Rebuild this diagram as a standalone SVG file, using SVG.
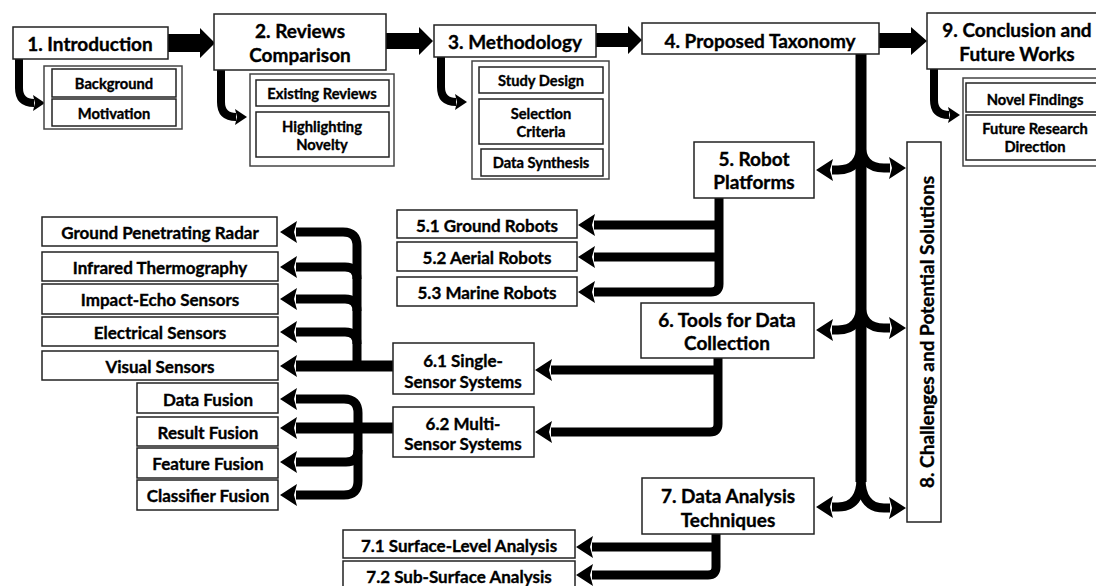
<svg xmlns="http://www.w3.org/2000/svg" width="1096" height="586" viewBox="0 0 1096 586">
<style>
.b{fill:#fff;stroke:#222;stroke-width:1.5}
.c{fill:#fff;stroke:#444;stroke-width:1.5}
text{font-family:Lato,"Open Sans",sans-serif;font-weight:700;fill:#000;stroke:#000;stroke-width:0.35;text-anchor:middle;dominant-baseline:central}
.h{font-size:19px}
.m{font-size:17px}
.s{font-size:14.7px}
.k{fill:none;stroke:#000;stroke-width:9}
.kt{fill:none;stroke:#000;stroke-width:11}
.ks{fill:none;stroke:#000;stroke-width:8}
.blk{fill:#000}
</style>
<defs>
<marker id="ah" markerUnits="userSpaceOnUse" markerWidth="20" markerHeight="26" refX="1" refY="13" orient="auto" viewBox="0 0 20 26">
<path d="M0,2 L17,13 L0,24 L3,13 z" fill="#000"/>
</marker>
<marker id="ahs" markerUnits="userSpaceOnUse" markerWidth="14" markerHeight="20" refX="1" refY="10" orient="auto" viewBox="0 0 14 20">
<path d="M0,2 L12,10 L0,18 L2,10 z" fill="#000"/>
</marker>
</defs>

<g id="connectors">
<path class="blk" d="M168,34 H200 V28 L215,43 L200,58 V52 H168 z"/>
<path class="blk" d="M386,33 H419 V27 L433,41 L419,55 V49 H386 z"/>
<path class="blk" d="M596,33 H628 V26 L642,40 L628,54 V47 H596 z"/>
<path class="blk" d="M879,33 H911 V27 L927,41 L911,55 V48 H879 z"/>
<path class="ks" d="M19,59 V88 Q19,103 34,103" marker-end="url(#ahs)"/>
<path class="ks" d="M221,70 V102 Q221,117 236,117" marker-end="url(#ahs)"/>
<path class="ks" d="M441,57 V87 Q441,102 456,102" marker-end="url(#ahs)"/>
<path class="ks" d="M934,69 V100 Q934,115 949,115" marker-end="url(#ahs)"/>
<path class="kt" d="M861,54 V482"/>
<path class="k" d="M861,143 Q861,170 838,170 H832" marker-end="url(#ah)"/>
<path class="k" d="M861,143 Q861,168 884,168 H890" marker-end="url(#ah)"/>
<path class="k" d="M861,303 Q861,330 838,330 H832" marker-end="url(#ah)"/>
<path class="k" d="M861,303 Q861,328 884,328 H890" marker-end="url(#ah)"/>
<path class="k" d="M861,478 Q861,507 838,507 H832" marker-end="url(#ah)"/>
<path class="k" d="M861,478 Q861,508 884,508 H890" marker-end="url(#ah)"/>
<path class="k" d="M719,198 V284 Q719,292 711,292 H594" marker-end="url(#ah)"/>
<path class="k" d="M719,225 H594" marker-end="url(#ah)"/>
<path class="k" d="M719,257 H594" marker-end="url(#ah)"/>
<path class="k" d="M718,358 V424 Q718,432 710,432 H551" marker-end="url(#ah)"/>
<path class="k" d="M718,370 H551" marker-end="url(#ah)"/>
<path class="k" d="M716,534 V567 Q716,575 708,575 H592" marker-end="url(#ah)"/>
<path class="k" d="M716,547 H592" marker-end="url(#ah)"/>
<path class="kt" d="M393,366 H296" marker-end="url(#ah)"/>
<path class="k" d="M357,366 V246 Q357,232 343,232 H296" marker-end="url(#ah)"/>
<path class="k" d="M357,279 Q357,267 345,267 H296" marker-end="url(#ah)"/>
<path class="k" d="M357,311 Q357,299 345,299 H296" marker-end="url(#ah)"/>
<path class="k" d="M357,344 Q357,332 345,332 H296" marker-end="url(#ah)"/>
<path class="kt" d="M393,428 H296" marker-end="url(#ah)"/>
<path class="k" d="M358,428 V413 Q358,399 344,399 H296" marker-end="url(#ah)"/>
<path class="k" d="M358,428 V481 Q358,495 344,495 H296" marker-end="url(#ah)"/>
<path class="k" d="M358,450 Q358,462 346,462 H296" marker-end="url(#ah)"/>
</g>

<g id="n1"><rect class="b" x="13" y="27" width="155" height="32"/><text class="h" x="90" y="43">1. Introduction</text></g>
<g id="n1s"><rect class="c" x="44" y="66" width="138" height="63"/>
<rect class="b" x="52" y="69" width="124" height="28"/><text class="s" x="114" y="83">Background</text>
<rect class="b" x="52" y="99" width="124" height="27"/><text class="s" x="114" y="113">Motivation</text></g>

<g id="n2"><rect class="b" x="214" y="14" width="172" height="56"/><text class="h" x="300" y="30">2. Reviews</text><text class="h" x="300" y="54">Comparison</text></g>
<g id="n2s"><rect class="c" x="250" y="74" width="144" height="92"/>
<rect class="b" x="256" y="80" width="133" height="26"/><text class="s" x="322" y="93">Existing Reviews</text>
<rect class="b" x="256" y="112" width="133" height="45"/><text class="s" x="322" y="126">Highlighting</text><text class="s" x="322" y="144">Novelty</text></g>

<g id="n3"><rect class="b" x="434" y="25" width="162" height="32"/><text class="h" x="515" y="41">3. Methodology</text></g>
<g id="n3s"><rect class="c" x="472" y="61" width="137" height="118"/>
<rect class="b" x="479" y="67" width="124" height="26"/><text class="s" x="541" y="80">Study Design</text>
<rect class="b" x="479" y="99" width="124" height="45"/><text class="s" x="541" y="113">Selection</text><text class="s" x="541" y="131">Criteria</text>
<rect class="b" x="481" y="149" width="122" height="27"/><text class="s" x="541" y="162">Data Synthesis</text></g>

<g id="n4"><rect class="b" x="642" y="23" width="237" height="31"/><text class="h" x="760" y="40">4. Proposed Taxonomy</text></g>

<g id="n9"><rect class="b" x="927" y="13" width="180" height="56"/><text class="h" x="1017" y="29">9. Conclusion and</text><text class="h" x="1017" y="53">Future Works</text></g>
<g id="n9s"><rect class="c" x="963" y="78" width="142" height="88"/>
<rect class="b" x="966" y="83" width="136" height="29"/><text class="s" x="1035" y="99">Novel Findings</text>
<rect class="b" x="966" y="115" width="136" height="45"/><text class="s" x="1035" y="128">Future Research</text><text class="s" x="1035" y="146">Direction</text></g>

<g id="n5"><rect class="b" x="694" y="142" width="120" height="56"/><text class="h" x="754" y="158">5. Robot</text><text class="h" x="754" y="181">Platforms</text></g>
<g id="n51"><rect class="b" x="397" y="210" width="180" height="28"/><text class="m" x="487" y="225">5.1 Ground Robots</text></g>
<g id="n52"><rect class="b" x="397" y="242" width="180" height="29"/><text class="m" x="487" y="257">5.2 Aerial Robots</text></g>
<g id="n53"><rect class="b" x="397" y="277" width="180" height="29"/><text class="m" x="487" y="292">5.3 Marine Robots</text></g>

<g id="n6"><rect class="b" x="641" y="303" width="173" height="55"/><text class="h" x="727" y="319">6. Tools for Data</text><text class="h" x="727" y="342">Collection</text></g>
<g id="n61"><rect class="b" x="393" y="343" width="141" height="51"/><text class="m" x="463" y="360">6.1 Single-</text><text class="m" x="463" y="381">Sensor Systems</text></g>
<g id="n62"><rect class="b" x="393" y="407" width="141" height="50"/><text class="m" x="463" y="423">6.2 Multi-</text><text class="m" x="463" y="443">Sensor Systems</text></g>

<g id="s1"><rect class="b" x="42" y="217" width="235" height="29"/><text class="m" x="160" y="232">Ground Penetrating Radar</text></g>
<g id="s2"><rect class="b" x="42" y="252" width="236" height="29"/><text class="m" x="160" y="267">Infrared Thermography</text></g>
<g id="s3"><rect class="b" x="42" y="284" width="236" height="30"/><text class="m" x="160" y="299">Impact-Echo Sensors</text></g>
<g id="s4"><rect class="b" x="42" y="317" width="236" height="29"/><text class="m" x="160" y="332">Electrical Sensors</text></g>
<g id="s5"><rect class="b" x="42" y="351" width="236" height="29"/><text class="m" x="160" y="366">Visual Sensors</text></g>

<g id="f1"><rect class="b" x="137" y="383" width="141" height="30"/><text class="m" x="208" y="399">Data Fusion</text></g>
<g id="f2"><rect class="b" x="137" y="417" width="141" height="29"/><text class="m" x="208" y="432">Result Fusion</text></g>
<g id="f3"><rect class="b" x="137" y="448" width="141" height="30"/><text class="m" x="208" y="463">Feature Fusion</text></g>
<g id="f4"><rect class="b" x="137" y="480" width="141" height="30"/><text class="m" x="208" y="495">Classifier Fusion</text></g>

<g id="n7"><rect class="b" x="642" y="478" width="172" height="56"/><text class="h" x="728" y="495">7. Data Analysis</text><text class="h" x="728" y="519">Techniques</text></g>
<g id="n71"><rect class="b" x="343" y="530" width="232" height="28"/><text class="m" x="459" y="545">7.1 Surface-Level Analysis</text></g>
<g id="n72"><rect class="b" x="343" y="561" width="232" height="30"/><text class="m" x="459" y="576">7.2 Sub-Surface Analysis</text></g>

<g id="n8"><rect class="b" x="907" y="142" width="34" height="380"/><text class="h" x="926" y="332" transform="rotate(-90 926 332)">8. Challenges and Potential Solutions</text></g>
</svg>
